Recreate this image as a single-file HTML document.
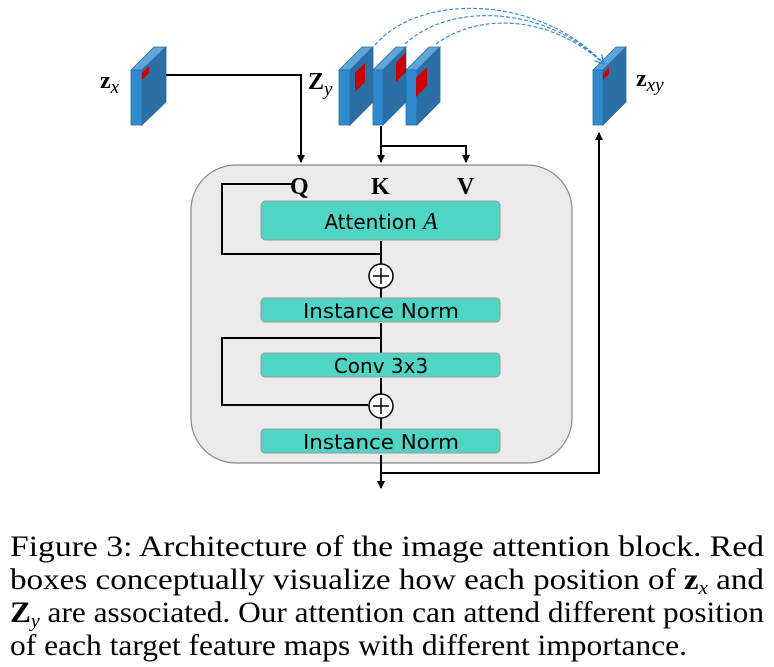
<!DOCTYPE html>
<html><head><meta charset="utf-8"><style>
html,body{margin:0;padding:0;background:#fff;width:774px;height:667px;overflow:hidden}
svg{display:block}
.lbl{font-family:"Liberation Serif",serif;font-weight:bold;font-size:24px}
.box{font-family:"DejaVu Sans","Liberation Sans",sans-serif;font-size:20px}
.cap{font-family:"Liberation Serif",serif;font-size:30px}
</style></head><body>
<svg width="774" height="667" viewBox="0 0 774 667" xmlns="http://www.w3.org/2000/svg">
<defs>
<marker id="ah" markerWidth="8" markerHeight="8" refX="7" refY="4" orient="auto" markerUnits="userSpaceOnUse">
<path d="M0,0 L8,4 L0,8 Z" fill="#000"/></marker>
<marker id="bh" markerWidth="10" markerHeight="10" refX="9" refY="5" orient="auto" markerUnits="userSpaceOnUse">
<path d="M0,0 L9,5 L0,10" fill="none" stroke="#2e86cf" stroke-width="1.2"/></marker>
</defs>
<rect x="191" y="165" width="381" height="298" rx="45" fill="#ebebeb" stroke="#888" stroke-width="1.2"/>
<g stroke="#2a6c9e" stroke-width="0.8">
<polygon points="131,70 154,47 166,47 142,70" fill="#5ea5da"/>
<polygon points="142,70 166,47 166,102 142,125" fill="#2a6fa6"/>
<rect x="131" y="70" width="11" height="55" fill="#2f8ad0"/>
<polygon points="339,70 362,47 373,47 350,70" fill="#5ea5da"/>
<polygon points="350,70 373,47 373,102 350,125" fill="#2a6fa6"/>
<rect x="339" y="70" width="11" height="55" fill="#2f8ad0"/>
<polygon points="373,70 396,47 406,47 383,70" fill="#5ea5da"/>
<polygon points="383,70 406,47 406,102 383,125" fill="#2a6fa6"/>
<rect x="373" y="70" width="10" height="55" fill="#2f8ad0"/>
<polygon points="406,70 429,47 440,47 417,70" fill="#5ea5da"/>
<polygon points="417,70 440,47 440,102 417,125" fill="#2a6fa6"/>
<rect x="406" y="70" width="11" height="55" fill="#2f8ad0"/>
<polygon points="593,70 616,47 626,47 603,70" fill="#5ea5da"/>
<polygon points="603,70 626,47 626,102 603,125" fill="#2a6fa6"/>
<rect x="593" y="70" width="10" height="55" fill="#2f8ad0"/>
</g>
<g fill="#cc0000">
<polygon points="142,73 149,66 149,73 142,80"/>
<polygon points="355,73 365,63 365,82 355,92"/>
<polygon points="396,63 406,52 406,72 396,82"/>
<polygon points="416,78 427,67 427,86 416,97"/>
<polygon points="603,74 609,67 609,74 603,80"/>
</g>
<g fill="none" stroke="#2e86cf" stroke-width="1.1" stroke-dasharray="4,2">
<path d="M375,45 C420,-8 540,-5 604,64" marker-end="url(#bh)"/>
<path d="M405,44 C450,2 545,5 604,64"/>
<path d="M436,44 C480,12 550,15 604,64"/>
</g>
<text x="100" y="88" class="lbl">z<tspan font-style="italic" font-weight="normal" font-size="19" dy="5">x</tspan></text>
<text x="308" y="89" class="lbl" font-size="26">Z<tspan font-style="italic" font-weight="normal" font-size="19" dy="6">y</tspan></text>
<text x="636" y="86" class="lbl">z<tspan font-style="italic" font-weight="normal" font-size="19" dy="5">xy</tspan></text>
<g fill="none" stroke="#000" stroke-width="2">
<polyline points="166,75 301,75 301,162" marker-end="url(#ah)"/>
<polyline points="381,126 381,162" marker-end="url(#ah)"/>
<polyline points="381,146 466,146 466,162" marker-end="url(#ah)"/>
<polyline points="292,184 222,184 222,254 381,254"/>
<line x1="381" y1="241" x2="381" y2="298"/>
<line x1="381" y1="323" x2="381" y2="354"/>
<polyline points="381,338 222,338 222,405 368,405"/>
<line x1="381" y1="378" x2="381" y2="430"/>
<line x1="381" y1="455" x2="381" y2="488" marker-end="url(#ah)"/>
<polyline points="381,473 599,473 599,133" marker-end="url(#ah)"/>
</g>
<text x="290" y="194" class="lbl">Q</text>
<text x="371" y="194" class="lbl">K</text>
<text x="457" y="194" class="lbl">V</text>
<g fill="#4fd5c4" stroke="#999" stroke-width="1">
<rect x="261" y="201" width="239" height="39" rx="5"/>
<rect x="261" y="298" width="239" height="24" rx="4"/>
<rect x="261" y="353" width="239" height="24" rx="4"/>
<rect x="261" y="429" width="239" height="24" rx="4"/>
</g>
<text x="381" y="229" class="box" text-anchor="middle">Attention <tspan font-family="Liberation Serif,serif" font-style="italic" font-size="24">A</tspan></text>
<text x="381" y="318" class="box" text-anchor="middle" textLength="156" lengthAdjust="spacingAndGlyphs">Instance Norm</text>
<text x="381" y="373" class="box" text-anchor="middle">Conv 3x3</text>
<text x="381" y="449" class="box" text-anchor="middle" textLength="156" lengthAdjust="spacingAndGlyphs">Instance Norm</text>
<g stroke="#000" stroke-width="1.5" fill="#fff">
<circle cx="381" cy="276" r="12"/><circle cx="381" cy="406" r="12"/>
</g>
<g stroke="#000" stroke-width="1.5">
<line x1="373" y1="276" x2="389" y2="276"/><line x1="381" y1="268" x2="381" y2="284"/>
<line x1="373" y1="406" x2="389" y2="406"/><line x1="381" y1="398" x2="381" y2="414"/>
</g>
<text class="cap" x="10" y="556" textLength="754" lengthAdjust="spacingAndGlyphs">Figure 3:  Architecture of the image attention block. Red</text>
<text class="cap" x="10" y="589" textLength="754" lengthAdjust="spacingAndGlyphs">boxes conceptually visualize how each position of <tspan font-weight="bold">z</tspan><tspan font-style="italic" font-size="19" dy="5">x</tspan><tspan dy="-5">  and</tspan></text>
<text class="cap" x="10" y="622" textLength="754" lengthAdjust="spacingAndGlyphs"><tspan font-weight="bold">Z</tspan><tspan font-style="italic" font-size="19" dy="5">y</tspan><tspan dy="-5"> are associated. Our attention can attend different position</tspan></text>
<text class="cap" x="10" y="655" textLength="677" lengthAdjust="spacingAndGlyphs">of each target feature maps with different importance.</text>
</svg>
</body></html>
